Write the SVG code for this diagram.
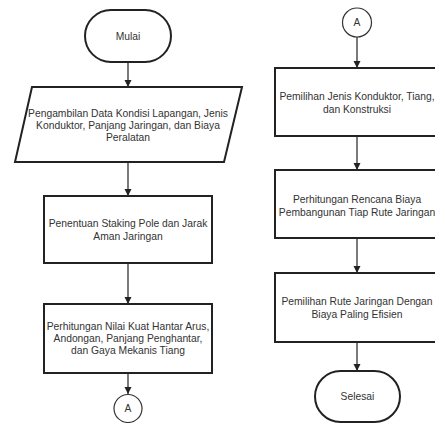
<svg xmlns="http://www.w3.org/2000/svg" width="435" height="423" viewBox="0 0 435 423">
<style>
.shape{fill:#fff;stroke:#222;stroke-width:2}
.circ{fill:#fff;stroke:#333;stroke-width:1.2}
.t{font-family:"Liberation Sans",Arial,sans-serif;font-size:10.3px;fill:#333;text-anchor:middle}
.c{stroke:#222;stroke-width:1.2;fill:none;marker-end:url(#ah)}
</style>
<defs>
<marker id="ah" markerWidth="8" markerHeight="8" refX="7" refY="4" orient="auto" markerUnits="userSpaceOnUse">
<path d="M0,0.5 L7,4 L0,7.5 Z" fill="#222"/>
</marker>
</defs>
<rect width="435" height="423" fill="#fff"/>
<g id="connectors">
<line class="c" x1="128" y1="62" x2="128" y2="87"/>
<line class="c" x1="128" y1="162" x2="128" y2="196"/>
<line class="c" x1="128" y1="263" x2="128" y2="304"/>
<line class="c" x1="128" y1="373" x2="128" y2="394"/>
<line class="c" x1="357" y1="37" x2="357" y2="68"/>
<line class="c" x1="357" y1="136" x2="357" y2="170"/>
<line class="c" x1="357" y1="238" x2="357" y2="273"/>
<line class="c" x1="357" y1="342" x2="357" y2="371"/>
</g>
<g id="mulai">
<rect class="shape" x="85" y="10" width="86" height="52" rx="26" ry="26"/>
<text class="t" x="128" y="39.5">Mulai</text>
</g>
<g id="data">
<polygon class="shape" points="32,87 242,87 224,162 15,162"/>
<text class="t" x="128" y="116.5">Pengambilan Data Kondisi Lapangan, Jenis</text>
<text class="t" x="128" y="128.5">Konduktor, Panjang Jaringan, dan Biaya</text>
<text class="t" x="128" y="140.5">Peralatan</text>
</g>
<g id="staking">
<rect class="shape" x="44" y="196" width="168" height="67"/>
<text class="t" x="128" y="226.5">Penentuan Staking Pole dan Jarak</text>
<text class="t" x="128" y="239.5">Aman Jaringan</text>
</g>
<g id="perhitungan">
<rect class="shape" x="44" y="304" width="168" height="69"/>
<text class="t" x="128" y="329.5">Perhitungan Nilai Kuat Hantar Arus,</text>
<text class="t" x="128" y="341.5">Andongan, Panjang Penghantar,</text>
<text class="t" x="128" y="354">dan Gaya Mekanis Tiang</text>
</g>
<g id="connA1">
<circle class="circ" cx="128" cy="408.5" r="14"/>
<text class="t" x="128" y="412">A</text>
</g>
<g id="connA2">
<circle class="circ" cx="357" cy="22.5" r="14.5"/>
<text class="t" x="357" y="26">A</text>
</g>
<g id="pemilihan">
<rect class="shape" x="275" y="68" width="168" height="68"/>
<text class="t" x="357" y="100">Pemilihan Jenis Konduktor, Tiang,</text>
<text class="t" x="357" y="113">dan Konstruksi</text>
</g>
<g id="biaya">
<rect class="shape" x="275" y="170" width="168" height="68"/>
<text class="t" x="357" y="203">Perhitungan Rencana Biaya</text>
<text class="t" x="357" y="216">Pembangunan Tiap Rute Jaringan</text>
</g>
<g id="rute">
<rect class="shape" x="275" y="273" width="168" height="69"/>
<text class="t" x="357" y="305">Pemilihan Rute Jaringan Dengan</text>
<text class="t" x="357" y="317.5">Biaya Paling Efisien</text>
</g>
<g id="selesai">
<rect class="shape" x="315" y="371" width="85" height="51" rx="25.5" ry="25.5"/>
<text class="t" x="357.5" y="400">Selesai</text>
</g>
</svg>
